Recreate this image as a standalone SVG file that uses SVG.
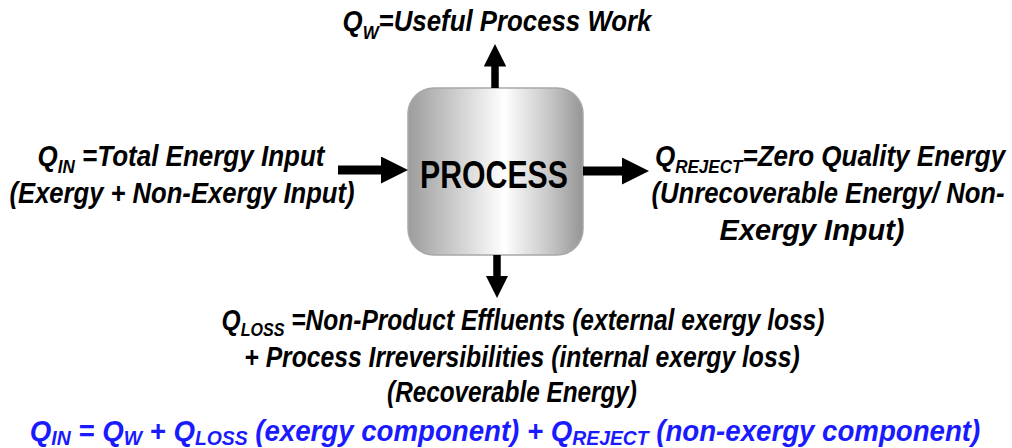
<svg xmlns="http://www.w3.org/2000/svg" width="1012" height="448" viewBox="0 0 1012 448">
  <style>
    .lbl { font-family: "Liberation Sans", Arial, sans-serif; font-weight: bold; font-style: italic; font-size: 29px; fill: #000; }
    .sub { font-size: 19px; }
    .eq { fill: #1a1aff; font-size: 30px; }
    .eq .sub { font-size: 21px; }
    .proc { font-family: "Liberation Sans", Arial, sans-serif; font-weight: bold; font-size: 38px; fill: #000; }
    .flow { stroke: #000; fill: none; marker-end: url(#head); }
  </style>
  <defs>
    <linearGradient id="metal" x1="0" y1="0" x2="1" y2="0">
      <stop offset="0" stop-color="#9c9c9c"/>
      <stop offset="0.22" stop-color="#c4c4c4"/>
      <stop offset="0.55" stop-color="#ffffff"/>
      <stop offset="0.82" stop-color="#c4c4c4"/>
      <stop offset="1" stop-color="#959595"/>
    </linearGradient>
    <marker id="head" markerUnits="strokeWidth" markerWidth="3" markerHeight="3" refX="0.6" refY="1.5" orient="auto">
      <path d="M0,0 L3,1.5 L0,3 z" fill="#000"/>
    </marker>
  </defs>

  <!-- process block -->
  <g id="process">
    <rect x="408" y="88" width="175" height="167" rx="26" ry="26" fill="url(#metal)" stroke="#a8a8a8" stroke-width="1.5"/>
    <text class="proc" transform="translate(494,188) scale(0.84,1)" text-anchor="middle" textLength="176" lengthAdjust="spacingAndGlyphs">PROCESS</text>
  </g>

  <!-- energy flows -->
  <g id="connectors">
    <line class="flow" x1="338" y1="170" x2="386.4" y2="170" stroke-width="9"/>
    <line class="flow" x1="583" y1="171" x2="627.4" y2="171" stroke-width="9"/>
    <line class="flow" x1="495" y1="88" x2="495" y2="62" stroke-width="7.5"/>
    <line class="flow" x1="497" y1="255" x2="497" y2="280" stroke-width="7.5"/>
  </g>

  <!-- labels: condensed bold italic, narrowed by a horizontal scale of 0.88 -->
  <g id="useful-work">
    <text class="lbl" transform="translate(497,31) scale(0.88,1)" text-anchor="middle" textLength="351" lengthAdjust="spacingAndGlyphs">Q<tspan class="sub" dy="8">W</tspan><tspan dy="-8">=Useful Process Work</tspan></text>
  </g>

  <g id="energy-input">
    <text class="lbl" transform="translate(181,166) scale(0.88,1)" text-anchor="middle" textLength="326" lengthAdjust="spacingAndGlyphs">Q<tspan class="sub" dy="7">IN</tspan><tspan dy="-7"> =Total Energy Input</tspan></text>
    <text class="lbl" transform="translate(182,203) scale(0.88,1)" text-anchor="middle" textLength="392" lengthAdjust="spacingAndGlyphs">(Exergy + Non-Exergy Input)</text>
  </g>

  <g id="rejected-energy">
    <text class="lbl" transform="translate(830,166) scale(0.88,1)" text-anchor="middle" textLength="398" lengthAdjust="spacingAndGlyphs">Q<tspan class="sub" dy="7">REJECT</tspan><tspan dy="-7">=Zero Quality Energy</tspan></text>
    <text class="lbl" transform="translate(828,203) scale(0.88,1)" text-anchor="middle" textLength="401" lengthAdjust="spacingAndGlyphs">(Unrecoverable Energy/ Non-</text>
    <text class="lbl" transform="translate(812,240) scale(0.88,1)" text-anchor="middle" textLength="210" lengthAdjust="spacingAndGlyphs">Exergy Input)</text>
  </g>

  <g id="energy-loss">
    <text class="lbl" transform="translate(523,330) scale(0.88,1)" text-anchor="middle" textLength="685" lengthAdjust="spacingAndGlyphs">Q<tspan class="sub" dy="6">LOSS</tspan><tspan dy="-6"> =Non-Product Effluents (external exergy loss)</tspan></text>
    <text class="lbl" transform="translate(522,367) scale(0.88,1)" text-anchor="middle" textLength="631" lengthAdjust="spacingAndGlyphs">+ Process Irreversibilities (internal exergy loss)</text>
    <text class="lbl" transform="translate(512,402) scale(0.88,1)" text-anchor="middle" textLength="284" lengthAdjust="spacingAndGlyphs">(Recoverable Energy)</text>
  </g>

  <g id="balance">
    <text class="lbl eq" transform="translate(505,441) scale(0.88,1)" text-anchor="middle" textLength="1080" lengthAdjust="spacingAndGlyphs">Q<tspan class="sub" dy="4">IN</tspan><tspan dy="-4"> = Q</tspan><tspan class="sub" dy="4">W</tspan><tspan dy="-4"> + Q</tspan><tspan class="sub" dy="4">LOSS</tspan><tspan dy="-4"> (exergy component) + Q</tspan><tspan class="sub" dy="4">REJECT</tspan><tspan dy="-4"> (non-exergy component)</tspan></text>
  </g>
</svg>
